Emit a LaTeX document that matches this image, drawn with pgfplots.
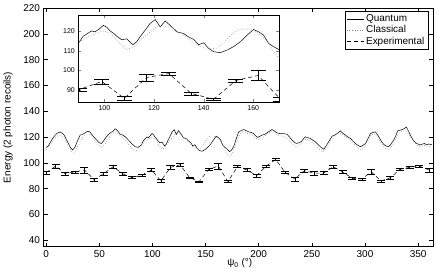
\documentclass[border=0pt]{standalone}
\usepackage{pgfplots}
\pgfplotsset{compat=1.18}
\usepackage{pgfplotstable}
\usepackage{fontspec}
\setmainfont{Liberation Sans}

\pgfplotstableread{
x y
0 112
2 113
5 117.5
8 121
10 122.7
13 124
15 123
17 121.5
19 118
21 115
23 111.5
25 110
27 112
28.5 115
30 118
32 121.5
34 122
36.7 123.2
39 124.5
41 124
43 122
44.5 120.2
46 119
48.3 117
50 115.5
52 115
54 117
55.6 118.9
58 121.5
60.3 123.2
63 124.5
65 126.5
67 125
69.7 122.2
72 121.5
74.4 120.2
77 118
79 116.3
81 114.5
83.8 112.5
86.5 112
89.5 113.7
91.5 117.3
93 118.5
94.9 120
96.2 119.5
98 121
99.6 122.8
101 121.8
102.3 120
104 118.5
105 117.3
107 115.5
109 116
111.5 113
113 114.5
115 118
116.4 120.3
118.4 123.7
120.5 125.7
122.5 122
124.5 125
126.5 122.8
129.2 119.5
131.9 118.7
133.9 117
136 115.7
138 113
140 114
142 111.2
144 109.5
146.7 109
149.4 110.3
152 112
154.8 114.5
157.5 117.8
160.1 120.7
162.2 119.5
164.2 117.8
166.2 113.7
168.2 112
170.2 110.7
172.6 108.7
174.5 110
176.4 112.5
179 119
181.1 124
183.5 125
185.8 125.8
188 125
190.5 124
193 123.5
195.2 122.7
197 121
199 119.7
201 120.5
203.1 121.5
205.5 122
207.8 123.2
210 124.5
212.5 125.8
215 124.5
217.2 123.2
220 122.7
222 122.7
224.5 122.5
226.6 122.2
229 120
231.4 117.6
233.5 116
235.4 115
237.5 115.5
239.8 116.3
242 118.5
243.9 120.2
246 119.5
248.6 118.9
251 117.5
253.3 116.3
256 114
258 112.5
261.1 110.5
263 112.5
264.9 115
267 118
269 120.7
271.5 121.5
273.7 122.7
276.8 124.8
279 123
281.5 121.5
284 120
286.3 118.9
288.5 117
291 115
293.5 113.5
295.7 112.5
298 113.5
300.4 115
303 119
305.1 122.7
307.5 123.5
309.8 124
312 121.5
313.9 118.9
316 116
318.3 113.8
320 113
322.3 112.5
324.5 114.5
327 117.6
329 121
330.8 124.8
333 125.3
335 125.8
337 126.5
339 127.8
341 124.5
342.7 121.5
345 118
347.5 115.6
350 114.5
352.2 113.8
354 114.5
355.9 115
358 114
360 114.6
363 114
}\quantum

\pgfplotstableread{
x y
0 110
3 113
6 117
9 120
12 121.5
15 121
18 118
21 113
24 108.5
26 107.5
28 110
31 115
34 119.5
37 121.5
40 122
43 121
46 117
49 114
52 112
55 114
58 118.5
61 121.5
64 123.5
67 123
70 121
73 119
76 116
79 113
82 110
85 109.5
88 112
89.5 114
92 116
95 118
98 119.5
100 120
103 118
106 114
109 110.5
112 112
115 116
118 119
121 122
124 122.5
127 122
130 119.5
133 117
136 114
139 112
142 111
145 111
148 114
151 118
154 120.5
157 121
160 120
163 118
166 114
168 110
170.5 106
173 105
176 109
179 116
182 122
185 124
188 123.5
191 122
194 121
197 119
200 118
203 119.5
206 121
209 123
212 124.5
215 123
218 121.5
221 121
224 120.5
227 119
230 116
233 113.5
236 112.5
239 114
242 117
245 118.5
248 117.5
251 115.5
254 113
257 110.5
260 108.5
263 110
266 114.5
269 119
272 121
275 123
278 122.5
281 120.5
284 119
287 117
290 114
293 111.5
296 110
299 111.5
302 116
305 121
308 122.5
311 121.5
314 117
317 113
320 110.5
323 110.5
326 114
329 119
332 123
335 124.5
338 125
341 122.5
344 118.5
347 115
350 113
353 112.5
356 113.5
360 113
363 113
}\classical

\pgfplotstableread{
x y e
0 92.5 1
9 97.5 1.5
18 91.5 1
27 93 0.8
36 94.5 2.2
45 87 1
54 91.5 1
63 97 1.5
72 91.5 1
81 88.5 0.8
90 90.5 0.8
99 94.5 1.2
108 86 1
117 96.5 1.8
126 98.5 0.8
135 88.5 0.7
144 85.5 0.6
153 95 0.7
162 97.5 2.5
171 85.5 0.8
180 97 0.8
189 94.5 1
198 90 1
207 97.5 0.8
216 102.5 0.8
225 92.5 0.8
234 87.5 1.5
243 94 1
252 92 1.5
261 92 1.2
270 97 1.2
279 93 1
288 88 0.8
297 87.5 0.8
306 93 1.8
315 86 0.8
324 88.5 1
333 95 1
342 96.5 1
351 97.5 1
360 94.5 1.5
}\experimental

\begin{document}
\begin{tikzpicture}
\path[use as bounding box] (-43.5bp,-26.3bp) rectangle (392.5bp,246.7bp);
\begin{axis}[
  scale only axis, width=389.5bp, height=238.7bp,
  xmin=-2.5, xmax=364, ymin=35, ymax=220,
  xtick={0,50,...,350}, ytick={40,60,...,220},
  tick align=inside, major tick length=4bp,
  axis line style={line width=0.6pt},
  every tick/.style={line width=0.5pt, black},
  tick label style={font=\fontsize{10}{12}\selectfont},
  /pgf/number format/assume math mode=true,
  xlabel={ψ\textsubscript{0} (°)},
  ylabel={Energy (2 photon recoils)},
  label style={font=\fontsize{10}{12}\selectfont},
  xlabel style={at={(axis description cs:0.504,-0.068)}, anchor=center},
  ylabel style={at={(axis description cs:-0.091,0.5)}, anchor=center},
  legend style={at={(1,1)}, anchor=north east, xshift=-5bp, yshift=-3bp,
    font=\fontsize{10}{10.5}\selectfont, draw=black, line width=0.5pt,
    inner sep=1.5bp, row sep=-1.5bp, cells={anchor=west}},
  legend cell align=left,
]
\addplot[black, line width=0.5pt] table {\quantum};
\addlegendentry{Quantum}
\addplot[black!50, line width=0.6pt, dotted] table {\classical};
\addlegendentry{Classical}
\addplot[black, line width=0.5pt, dash pattern=on 4bp off 3bp,
  error bars/.cd, y dir=both, y explicit,
  error bar style={solid, line width=0.5pt},
  error mark options={rotate=90, mark size=4bp, line width=0.5pt}]
  table[x=x, y=y, y error=e] {\experimental};
\addlegendentry{Experimental}
\end{axis}
\begin{axis}[
  at={(34.8bp,231.7bp)}, anchor=north west,
  scale only axis, width=201bp, height=87.3bp,
  xmin=89.5, xmax=170.5, ymin=84, ymax=128,
  xtick={100,120,140,160}, ytick={90,100,110,120},
  tick align=inside, major tick length=3bp,
  axis background/.style={fill=white},
  axis line style={line width=0.6pt},
  tick label style={font=\fontsize{7}{8}\selectfont},
  /pgf/number format/assume math mode=true,
]
\addplot[black, line width=0.5pt] table {\quantum};
\addplot[black!50, line width=0.6pt, dotted] table {\classical};
\addplot[black, line width=0.5pt, dash pattern=on 4bp off 3bp,
  error bars/.cd, y dir=both, y explicit,
  error bar style={solid, line width=0.5pt},
  error mark options={rotate=90, mark size=7.5bp, line width=0.5pt}]
  table[x=x, y=y, y error=e] {\experimental};
\end{axis}
\end{tikzpicture}
\end{document}
